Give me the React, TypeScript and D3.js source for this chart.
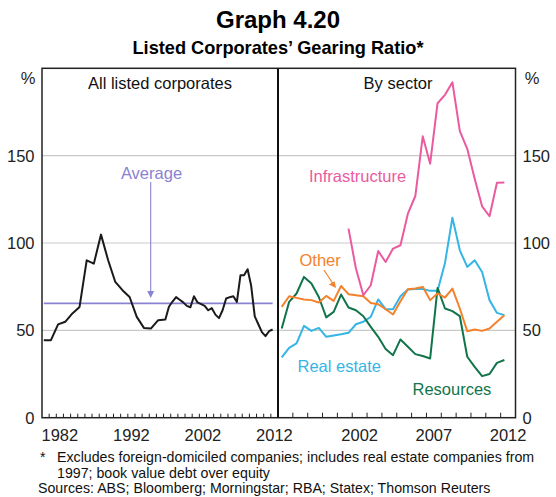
import React from "react";
import * as d3 from "d3";

// ---------- DATA ----------
// All listed corporates: annual observations (1980–1996), then half-yearly (1997–2012)
const annualDates = [1980, 1981, 1982, 1983, 1984, 1985, 1986, 1987, 1988, 1989, 1990, 1991, 1992, 1993, 1994, 1995, 1996];
const annualValues = [44.4, 44.4, 53.4, 54.9, 59.7, 63.4, 90.1, 88.2, 104.8, 90.1, 77.7, 73.0, 69.1, 57.7, 51.4, 51.1, 55.8];
const halfYearDates = d3.range(1997, 2012.01, 0.5);
const allListedHalfYear = [56.2, 63.5, 66.5, 69.0, 67.5, 66.0, 64.0, 63.2, 69.5, 66.0, 65.0, 64.0, 61.5, 62.7, 59.0, 57.0, 61.5, 68.2, 69.0, 69.5, 66.3, 81.5, 81.5, 85.0, 75.5, 58.0, 53.5, 49.0, 46.7, 49.5, 50.5];
const averageValue = 65.4;

// By sector (half-yearly 1997–2012)
const infrastructure = [null, null, null, null, null, null, null, null, null, 108.2, 85.4, 70.1, 75.8, 95.4, 89.1, 96.8, 98.7, 116.8, 126.9, 161.1, 145.4, 180.0, 184.8, 192.0, 164.0, 153.9, 136.8, 121.0, 115.3, 134.5, 134.7];
const other = [63.4, 69.5, 68.6, 67.7, 67.3, 65.9, 69.7, 66.9, 75.4, 70.7, 70.1, 69.5, 65.7, 65.0, 62.1, 59.1, 66.7, 73.5, 73.9, 74.9, 67.3, 71.1, 68.8, 73.9, 62.5, 49.5, 50.5, 49.7, 51.1, 54.9, 58.7];
const realEstate = [34.5, 40.0, 42.5, 52.6, 49.7, 51.4, 46.3, 47.1, 47.8, 48.6, 53.5, 54.9, 57.7, 67.7, 62.1, 62.1, 69.5, 73.4, 73.7, 73.7, 72.6, 72.6, 88.6, 114.5, 95.8, 86.3, 90.1, 83.4, 67.3, 60.0, 58.7];
const resources = [51.1, 66.3, 71.1, 80.6, 76.8, 69.1, 57.4, 60.6, 70.5, 63.1, 61.5, 58.1, 52.0, 46.3, 39.3, 35.8, 44.8, 40.6, 36.4, 35.3, 33.9, 74.3, 62.5, 61.0, 58.1, 34.9, 29.1, 23.8, 25.0, 31.4, 33.0];

const yTicks = [0, 50, 100, 150];
const leftYearLabels = [1982, 1992, 2002, 2012];
const rightYearLabels = [2002, 2007, 2012];

// ---------- LAYOUT ----------
const W = 556, H = 497;
const top = 68.3, bottom = 417.7;
const xL0 = 42, xMid = 278, xR1 = 515.5;
const FONT = "'Liberation Sans', Arial, Helvetica, sans-serif";

const COLORS = {
  all: "#1a1a1a",
  avg: "#8a82d2",
  infra: "#ea5a9f",
  other: "#f4822c",
  realEstate: "#35b5e5",
  resources: "#11744a",
  grid: "#c9c9c9",
};

const y = d3.scaleLinear().domain([0, 200]).range([bottom, top]);
const xLeft = d3.scaleLinear().domain([1980, 2013]).range([xL0, xMid]);
const xRight = d3.scaleLinear().domain([1997, 2013]).range([xMid, xR1]);

type Pt = { d: number; v: number | null };

export default function App() {
  // point placed a quarter into the year / half-year period
  const leftPts: Pt[] = [
    ...annualDates.map((d, i) => ({ d: d + 0.25, v: annualValues[i] })),
    ...halfYearDates.map((d, i) => ({ d: d + 0.25, v: allListedHalfYear[i] })),
  ];
  const rightSeries = (vals: (number | null)[]): Pt[] =>
    halfYearDates.map((d, i) => ({ d: d + 0.25, v: vals[i] }));

  const lineL = d3
    .line<Pt>()
    .defined((p) => p.v !== null)
    .x((p) => xLeft(p.d))
    .y((p) => y(p.v as number));
  const lineR = d3
    .line<Pt>()
    .defined((p) => p.v !== null)
    .x((p) => xRight(p.d))
    .y((p) => y(p.v as number));

  const leftTicks = d3.range(1981, 2013);
  const rightTicks = d3.range(1998, 2013);

  const avgX0 = xLeft(leftPts[0].d);
  const avgX1 = xLeft(leftPts[leftPts.length - 1].d);
  const avgY = y(averageValue);
  const arrowX = 150.7;

  return (
    <svg
      width={W}
      height={H}
      viewBox={`0 0 ${W} ${H}`}
      style={{ position: "absolute", left: 0, top: 0, background: "#fff" }}
      fontFamily={FONT}
    >
      <rect x={0} y={0} width={W} height={H} fill="#fff" />
      {/* Titles */}
      <text x={W / 2} y={28} textAnchor="middle" fontSize={24} fontWeight="bold" fill="#000">
        Graph 4.20
      </text>
      <text x={W / 2} y={54} textAnchor="middle" fontSize={18.2} fontWeight="bold" fill="#000">
        Listed Corporates’ Gearing Ratio*
      </text>

      {/* gridlines */}
      {yTicks
        .filter((t) => t > 0)
        .map((t) => (
          <line key={t} x1={xL0} x2={xR1} y1={y(t)} y2={y(t)} stroke={COLORS.grid} strokeWidth={1.2} />
        ))}

      {/* y labels */}
      {yTicks.map((t) => (
        <g key={t}>
          <text x={34.5} y={y(t)} dy="0.36em" textAnchor="end" fontSize={16.5} fill="#222">
            {t}
          </text>
          <text x={522.5} y={y(t)} dy="0.36em" textAnchor="start" fontSize={16.5} fill="#222">
            {t}
          </text>
        </g>
      ))}
      <text x={28} y={84} textAnchor="middle" fontSize={16.5} fill="#222">%</text>
      <text x={532} y={84} textAnchor="middle" fontSize={16.5} fill="#222">%</text>

      {/* x ticks */}
      {leftTicks.map((t) => (
        <line key={"l" + t} x1={xLeft(t)} x2={xLeft(t)} y1={bottom} y2={bottom - 4} stroke="#222" strokeWidth={1} />
      ))}
      {rightTicks.map((t) => (
        <line key={"r" + t} x1={xRight(t)} x2={xRight(t)} y1={bottom} y2={bottom - 5} stroke="#222" strokeWidth={1} />
      ))}
      {leftYearLabels.map((t) => (
        <text key={"ll" + t} x={xLeft(t + 0.5)} y={441} textAnchor="middle" fontSize={16.5} fill="#222">
          {t}
        </text>
      ))}
      {rightYearLabels.map((t) => (
        <text key={"rl" + t} x={xRight(t + 0.5)} y={441} textAnchor="middle" fontSize={16.5} fill="#222">
          {t}
        </text>
      ))}

      {/* panel titles */}
      <text x={160} y={89} textAnchor="middle" fontSize={16.5} fill="#111">All listed corporates</text>
      <text x={398} y={89} textAnchor="middle" fontSize={16.5} fill="#111">By sector</text>

      {/* Average line + annotation */}
      <line x1={avgX0} x2={avgX1} y1={avgY} y2={avgY} stroke={COLORS.avg} strokeWidth={1.8} />
      <text x={151.5} y={179} textAnchor="middle" fontSize={16.5} fill={COLORS.avg}>Average</text>
      <line x1={arrowX} x2={arrowX} y1={182} y2={292} stroke={COLORS.avg} strokeWidth={1.1} />
      <path d={`M${arrowX - 3.5},291 L${arrowX + 3.5},291 L${arrowX},298 Z`} fill={COLORS.avg} />

      {/* left series */}
      <path d={lineL(leftPts) || ""} fill="none" stroke={COLORS.all} strokeWidth={2} strokeLinejoin="round" />

      {/* right series */}
      <path d={lineR(rightSeries(realEstate)) || ""} fill="none" stroke={COLORS.realEstate} strokeWidth={2} strokeLinejoin="round" />
      <path d={lineR(rightSeries(resources)) || ""} fill="none" stroke={COLORS.resources} strokeWidth={2} strokeLinejoin="round" />
      <path d={lineR(rightSeries(other)) || ""} fill="none" stroke={COLORS.other} strokeWidth={2} strokeLinejoin="round" />
      <path d={lineR(rightSeries(infrastructure)) || ""} fill="none" stroke={COLORS.infra} strokeWidth={2} strokeLinejoin="round" />

      {/* series labels */}
      <text x={309} y={182} fontSize={16.5} fill={COLORS.infra}>Infrastructure</text>
      <text x={299.5} y={266} fontSize={16.5} fill={COLORS.other}>Other</text>
      <line x1={324} y1={270} x2={332.5} y2={283} stroke={COLORS.other} strokeWidth={1.2} />
      <path d="M328.8,284.6 L334.6,281.2 L336,288 Z" fill={COLORS.other} />
      <text x={297.5} y={372} fontSize={16.5} fill={COLORS.realEstate}>Real estate</text>
      <text x={412.5} y={395} fontSize={16.5} fill={COLORS.resources}>Resources</text>

      {/* frame */}
      <rect x={xL0} y={top} width={xR1 - xL0} height={bottom - top} fill="none" stroke="#222" strokeWidth={1.5} />
      <line x1={xMid} x2={xMid} y1={top} y2={bottom} stroke="#111" strokeWidth={2} />

      {/* footnotes */}
      <text x={40} y={462} fontSize={14.2} fill="#111">*</text>
      <text x={57} y={462} fontSize={14.2} fill="#111">
        Excludes foreign-domiciled companies; includes real estate companies from
      </text>
      <text x={57} y={477.5} fontSize={14.2} fill="#111">1997; book value debt over equity</text>
      <text x={38} y={493} fontSize={14.2} fill="#111">
        Sources: ABS; Bloomberg; Morningstar; RBA; Statex; Thomson Reuters
      </text>
    </svg>
  );
}
